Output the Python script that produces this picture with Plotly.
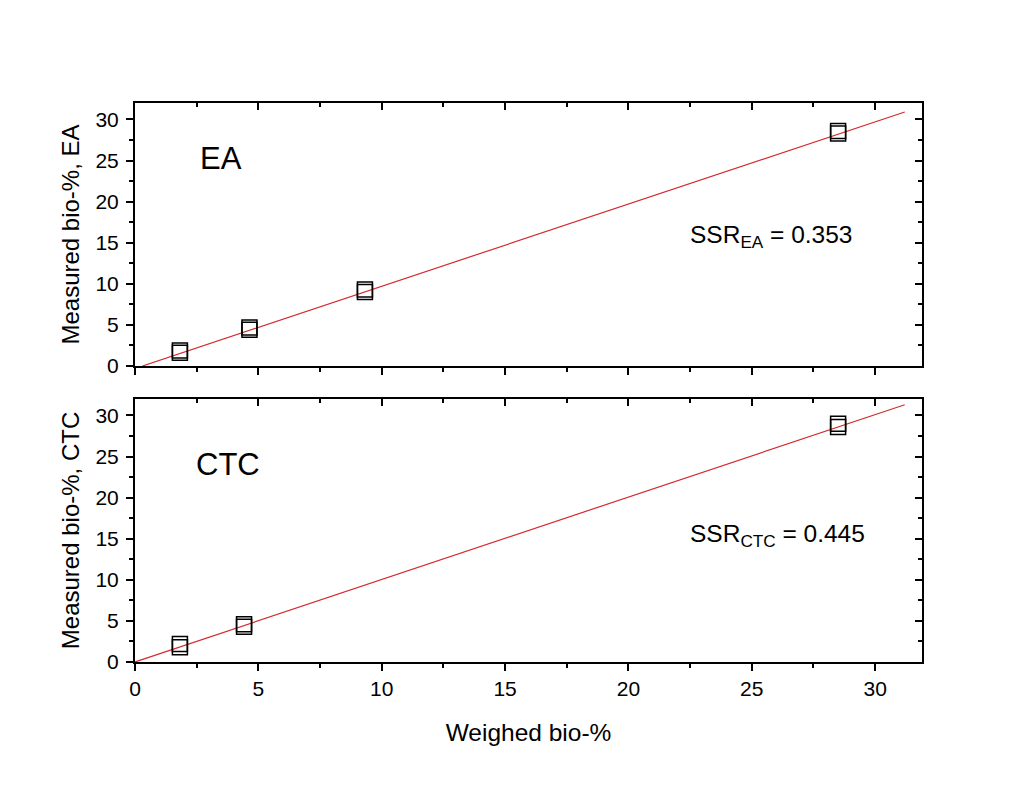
import plotly.graph_objects as go

# Data
ea_x = [1.82, 1.82, 4.64, 4.64, 9.32, 9.32, 28.5, 28.5]
ea_y = [1.6, 1.9, 4.4, 4.7, 9.0, 9.3, 28.3, 28.6]
ea_fit_x = [0.3, 31.2]
ea_fit_y = [0.0, 30.9]

ctc_x = [1.82, 1.82, 4.42, 4.42, 28.5, 28.5]
ctc_y = [1.8, 2.2, 4.3, 4.6, 28.6, 29.0]
ctc_fit_x = [0.0, 31.2]
ctc_fit_y = [0.0, 31.3]

x_range = [0, 31.9]
y_range = [0, 32]
x_ticks = [0, 5, 10, 15, 20, 25, 30]
y_ticks = [0, 5, 10, 15, 20, 25, 30]

FONT = "Arial, Liberation Sans, sans-serif"
red = "#d42a2a"

fig = go.Figure()
marker = dict(symbol="square-open", size=15, color="black", line=dict(width=1.5, color="black"))

fig.add_trace(go.Scatter(x=ea_fit_x, y=ea_fit_y, mode="lines", line=dict(color=red, width=1.2),
                         xaxis="x", yaxis="y", showlegend=False))
fig.add_trace(go.Scatter(x=ea_x, y=ea_y, mode="markers", marker=marker, xaxis="x", yaxis="y", showlegend=False))
fig.add_trace(go.Scatter(x=ctc_fit_x, y=ctc_fit_y, mode="lines", line=dict(color=red, width=1.2),
                         xaxis="x2", yaxis="y2", showlegend=False))
fig.add_trace(go.Scatter(x=ctc_x, y=ctc_y, mode="markers", marker=marker, xaxis="x2", yaxis="y2", showlegend=False))

# dummy traces for overlay axes (inside ticks on top/right)
for xa, ya in [("x3", "y"), ("x", "y3"), ("x4", "y2"), ("x2", "y4")]:
    fig.add_trace(go.Scatter(x=[None], y=[None], xaxis=xa, yaxis=ya, showlegend=False, hoverinfo="skip"))

top_dom = [0.5295, 1.0]
bot_dom = [0.0, 0.4705]

tickfont = dict(family=FONT, size=21, color="black")
common = dict(showgrid=False, zeroline=False, linecolor="black", linewidth=2,
              tickcolor="black", tickwidth=1.5, ticklen=7, tickfont=tickfont)

def xax(anchor, labels, side="bottom", ticks="outside", overlay=None):
    d = dict(common, range=x_range, tickvals=x_ticks, anchor=anchor, showticklabels=labels,
             side=side, ticks=ticks, showline=True, mirror=True,
             minor=dict(ticks=ticks, dtick=2.5, ticklen=4, tickwidth=1.5, tickcolor="black"))
    if overlay:
        d["overlaying"] = overlay
    return d

def yax(anchor, domain, title, side="left", ticks="outside", overlay=None):
    d = dict(common, range=y_range, tickvals=y_ticks, anchor=anchor, domain=domain,
             side=side, ticks=ticks, showline=True, mirror=True,
             minor=dict(ticks=ticks, dtick=2.5, ticklen=4, tickwidth=1.5, tickcolor="black"))
    if overlay:
        d["overlaying"] = overlay
        d["showticklabels"] = False
    else:
        d["ticklabelstandoff"] = 3
        d["title"] = dict(text=title, font=dict(family=FONT, size=24, color="black"), standoff=9)
    return d

fig.update_layout(
    width=1024, height=798,
    margin=dict(l=135, r=102, t=103, b=136),
    paper_bgcolor="white", plot_bgcolor="white",
    xaxis=xax("y", False),
    yaxis=yax("x", top_dom, "Measured bio-%, EA"),
    xaxis2=dict(xax("y2", True),
                title=dict(text="Weighed bio-%", font=dict(family=FONT, size=24.5, color="black"), standoff=25)),
    yaxis2=yax("x2", bot_dom, "Measured bio-%, CTC"),
    xaxis3=xax("y", False, side="top", ticks="inside", overlay="x"),
    yaxis3=yax("x", top_dom, "", side="right", ticks="inside", overlay="y"),
    xaxis4=xax("y2", False, side="top", ticks="inside", overlay="x2"),
    yaxis4=yax("x2", bot_dom, "", side="right", ticks="inside", overlay="y2"),
)

ann_font = dict(family=FONT, size=31, color="black")
ssr_font = dict(family=FONT, size=24.5, color="black")
fig.add_annotation(x=2.55, y=25.2, xref="x", yref="y", text="EA", showarrow=False, font=ann_font, xanchor="left")
fig.add_annotation(x=22.4, y=15.8, xref="x", yref="y", text="SSR<sub>EA</sub> = 0.353", showarrow=False,
                   font=ssr_font, xanchor="left")
fig.add_annotation(x=2.4, y=24.0, xref="x2", yref="y2", text="CTC", showarrow=False, font=ann_font, xanchor="left")
fig.add_annotation(x=22.4, y=15.4, xref="x2", yref="y2", text="SSR<sub>CTC</sub> = 0.445", showarrow=False,
                   font=ssr_font, xanchor="left")

fig.write_html("out.html")
